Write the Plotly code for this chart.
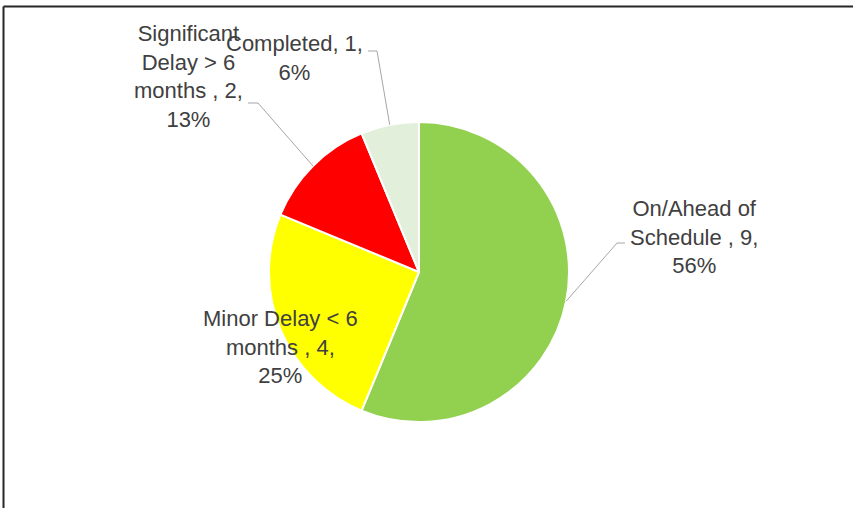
import math
import plotly.graph_objects as go

# ---- data ----
categories = ["On/Ahead of Schedule ", "Minor Delay < 6 months ", "Significant Delay > 6 months ", "Completed"]
label_lines = ["On/Ahead of<br>Schedule , 9,<br>56%",
               "Minor Delay < 6<br>months , 4,<br>25%",
               "Significant<br>Delay > 6<br>months , 2,<br>13%",
               "Completed, 1,<br>6%"]
values = [9, 4, 2, 1]
colors = ["#92D050", "#FFFF00", "#FF0000", "#E2EFDA"]

W, H = 853, 508
CX, CY, R = 419, 272, 150  # pie centre / radius in pixels

def px(x):
    return x / W

def py(y):
    return 1 - y / H

fig = go.Figure(go.Pie(
    labels=categories,
    values=values,
    marker=dict(colors=colors, line=dict(color="white", width=2)),
    sort=False,
    direction="clockwise",
    rotation=0,
    textinfo="none",
    hoverinfo="label+value+percent",
    showlegend=False,
    domain=dict(x=[px(CX - R), px(CX + R)], y=[py(CY + R), py(CY - R)]),
))

# label block centres (pixels) and leader elbow points
label_pos = [(694, 237), (280, 347), (188, 77), (294, 58)]
elbows = [((625, 243), (617, 243)), None, ((248, 103), (258, 103)), ((368, 51), (377, 51))]

font = dict(family="Liberation Sans, Arial", size=22, color="#404040")

total = sum(values)
cum = 0
shapes = []
annotations = []
for i, v in enumerate(values):
    mid = (cum + v / 2) / total * 2 * math.pi
    cum += v
    ex = CX + R * math.sin(mid)
    ey = CY - R * math.cos(mid)
    lx, ly = label_pos[i]
    annotations.append(dict(x=px(lx), y=py(ly), xref="paper", yref="paper",
                            text=label_lines[i], showarrow=False,
                            xanchor="center", yanchor="middle", align="center",
                            font=font))
    if elbows[i]:
        (ax, ay), (bx, by) = elbows[i]
        shapes.append(dict(type="path", xref="paper", yref="paper",
                           path=f"M {px(ax)} {py(ay)} L {px(bx)} {py(by)} L {px(ex)} {py(ey)}",
                           line=dict(color="#A6A6A6", width=1)))

# chart frame (top and left edges)
shapes.append(dict(type="line", xref="paper", yref="paper", x0=px(3.5), x1=1, y0=py(6.5), y1=py(6.5),
                   line=dict(color="#262626", width=2)))
shapes.append(dict(type="line", xref="paper", yref="paper", x0=px(3.5), x1=px(3.5), y0=py(6.5), y1=0,
                   line=dict(color="#262626", width=2)))

fig.update_layout(
    width=W, height=H,
    margin=dict(l=0, r=0, t=0, b=0),
    paper_bgcolor="white",
    plot_bgcolor="white",
    shapes=shapes,
    annotations=annotations,
)

fig.write_html("out.html", config={"displayModeBar": False},
               post_script="document.body.style.margin='0';")
